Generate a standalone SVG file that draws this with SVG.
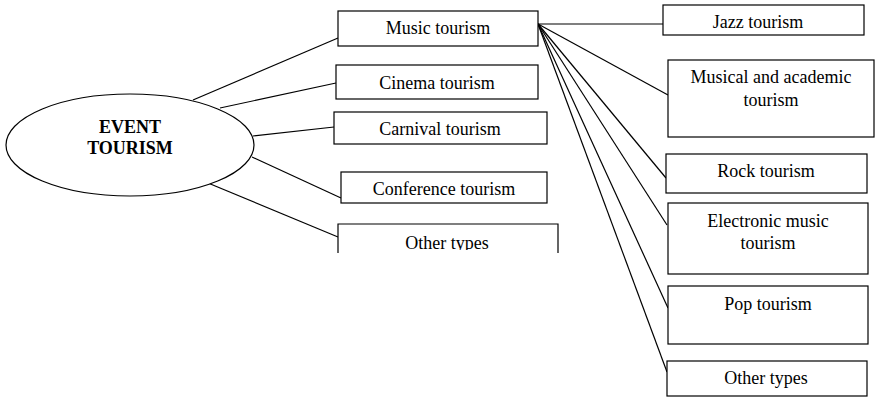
<svg xmlns="http://www.w3.org/2000/svg" width="876" height="397" viewBox="0 0 876 397">
<style>
.b{fill:#fff;stroke:#000;stroke-width:1.2}
.t{font-family:"Liberation Serif",serif;font-size:18px;fill:#000;text-anchor:middle}
.bt{font-family:"Liberation Serif",serif;font-size:18px;font-weight:bold;fill:#000;text-anchor:middle}
.c line{stroke:#000;stroke-width:1.2}
</style>
<defs>
<clipPath id="clipOther"><rect x="330" y="220" width="240" height="30"/></clipPath>
<clipPath id="clipJazz"><rect x="660" y="0" width="210" height="29"/></clipPath>
</defs>
<rect width="876" height="397" fill="#fff"/>
<g class="c" id="connectors">
<line x1="193" y1="100" x2="338" y2="38"/>
<line x1="220" y1="108" x2="336" y2="83"/>
<line x1="253" y1="136" x2="334" y2="127"/>
<line x1="252" y1="157" x2="341" y2="198"/>
<line x1="208" y1="183" x2="338" y2="237"/>
<line x1="538" y1="24" x2="663" y2="24"/>
<line x1="538" y1="24" x2="668" y2="95"/>
<line x1="538" y1="24" x2="666" y2="178"/>
<line x1="538" y1="24" x2="667" y2="225"/>
<line x1="538" y1="24" x2="668" y2="308"/>
<line x1="538" y1="24" x2="667" y2="372"/>
</g>
<g id="event">
<ellipse class="b" cx="130" cy="145" rx="124" ry="51"/>
<text class="bt" x="130" y="133">EVENT</text>
<text class="bt" x="130" y="154">TOURISM</text>
</g>
<g id="music"><rect class="b" x="338" y="11" width="200" height="35"/><text class="t" x="438" y="34">Music tourism</text></g>
<g id="cinema"><rect class="b" x="336" y="65" width="202" height="34"/><text class="t" x="437" y="89">Cinema tourism</text></g>
<g id="carnival"><rect class="b" x="334" y="112" width="213" height="32"/><text class="t" x="440" y="135">Carnival tourism</text></g>
<g id="conference"><rect class="b" x="341" y="172" width="206" height="31"/><text class="t" x="444" y="195">Conference tourism</text></g>
<g id="other-left"><path d="M338,253 V224 H558 V253" fill="#fff" stroke="#000" stroke-width="1.2"/><text class="t" x="447" y="249" clip-path="url(#clipOther)">Other types</text></g>
<g id="jazz"><rect class="b" x="663" y="5" width="201" height="30"/><text class="t" x="758" y="28" clip-path="url(#clipJazz)">Jazz tourism</text></g>
<g id="musical"><rect class="b" x="668" y="60" width="206" height="77"/><text class="t" x="771" y="83">Musical and academic</text><text class="t" x="771" y="106">tourism</text></g>
<g id="rock"><rect class="b" x="666" y="154" width="201" height="39"/><text class="t" x="766" y="177">Rock tourism</text></g>
<g id="electronic"><rect class="b" x="668" y="203" width="200" height="71"/><text class="t" x="768" y="227">Electronic music</text><text class="t" x="768" y="249">tourism</text></g>
<g id="pop"><rect class="b" x="668" y="286" width="200" height="58"/><text class="t" x="768" y="310">Pop tourism</text></g>
<g id="other-right"><rect class="b" x="667" y="361" width="200" height="35"/><text class="t" x="766" y="384">Other types</text></g>
</svg>
